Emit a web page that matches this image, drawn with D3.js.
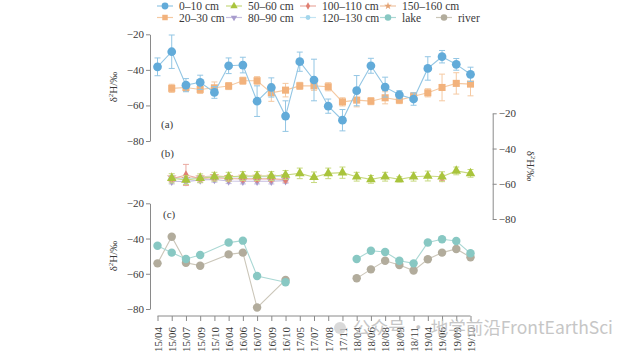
<!DOCTYPE html>
<html><head><meta charset="utf-8">
<script src="https://cdn.jsdelivr.net/npm/d3@7"></script>
<style>body{margin:0;background:#fff}svg{display:block}</style>
</head><body><svg id="c" width="639" height="355"></svg>
<script>
const categories = ["15/04","15/06","15/07","15/09","15/10","16/04","16/06","16/07","16/09","16/10","17/05","17/07","17/08","17/11","18/04","18/06","18/08","18/09","18/11","19/04","19/06","19/09","19/10"];
const yTicks = [-20,-40,-60,-80];
// panel (a)
const d0_10  = [-38.3,-29.8,-48.6,-47,-52.7,-37.7,-37.3,-57.6,-49.9,-66,-35.4,-45.7,-60.4,-68.3,-51.7,-37.7,-49.7,-54,-56.4,-39.2,-32.6,-36.9,-42.5];
const e0_10  = [5,9.4,3.7,4,3.3,4.4,4.4,8.6,5.4,8.6,5.4,11.7,4,6,8.5,4.2,5.6,2.3,3.5,6.6,3.5,3.3,4];
const d20_30 = [null,-50.4,-49.9,-51,-50.1,-49.1,-46.1,-46.1,-52.9,-51.4,-49,-49,-49.5,-58,-57,-57.6,-55.7,-57,-54.8,-52.9,-49.9,-47.6,-48];
const e20_30 = [null,2.3,2.3,2.3,3.3,2,2,2.3,4.8,3.8,2,2.5,2.3,2.3,3.8,2,3.4,2,2,2.3,7.5,6,6.6];
// panel (b)
const d50_60 = [null,-56.9,-57.9,-56.9,-56,-56,-55.6,-55.6,-55.6,-55,-54.1,-56.3,-54.1,-53.7,-56,-57.5,-56,-57.5,-56,-55.6,-56,-52.7,-54.1];
const e50_60 = [null,2.6,2.5,2.5,2.5,2.5,2.5,2.5,2.5,2.5,3,3,3,3.2,2.5,2.2,2.5,1.5,2.5,2.8,2.8,2.2,2.2];
const d80_90 = [null,-58.6,-58.8,-57.8,-57.6,-58.4,-58.6,-58.6,-58.6,-58.2,null,null,null,null,null,null,null,null,null,null,null,null,null];
const e80_90 = [null,1.5,1.5,1.5,1.5,1.5,1.5,1.5,1.5,1.5,null,null,null,null,null,null,null,null,null,null,null,null,null];
const d100_110 = [null,-57.2,-55,-57,-56.5,-57,-57.2,-57.2,-57.2,-57.6,null,null,null,null,null,null,null,null,null,null,-56.6,null,null];
const e100_110 = [null,1.5,6,1.5,1.5,1.5,1.5,1.5,1.5,1.5,null,null,null,null,null,null,null,null,null,null,1.5,null,null];
const d120_130 = [null,-56.5,-57.5,-56.5,-56,-56.2,-56,-56,-56,-55.5,null,null,null,null,null,null,null,null,null,null,null,null,null];
const d150_160 = [null,-56.2,-57,-56.2,-55.5,-56,-55.8,-55.8,-55.8,-55.5,null,null,null,null,null,null,null,null,null,null,null,null,null];
// panel (c)
const lake  = [-44.1,-48,-51.6,-49.3,null,-42.3,-41.2,-61.3,null,-64.8,null,null,null,null,-51.6,-46.9,-47.6,-52.6,-54.1,-42.3,-40.4,-41.4,-48.4];
const river = [-54.1,-39,-53.7,-55.4,null,-49,-48,-79.2,null,-63.5,null,null,null,null,-62.6,-57.5,-52.6,-55,-58.2,-51.8,-48,-45.9,-50.6];

const legendNames = ["0–10 cm","50–60 cm","100–110 cm","150–160 cm","20–30 cm","80–90 cm","120–130 cm","lake","river"];

const svg = d3.select("#c");
const serif = "'Liberation Serif','Times New Roman',serif";
const axisCol = "#8a8a8a", txtCol = "#3a3a3a";

const x = d3.scalePoint().domain(categories).range([157.5, 470.5]);
const yA = d3.scaleLinear().domain([-80,-20]).range([141,34.3]);
const yB = d3.scaleLinear().domain([-80,-20]).range([219,113.3]);
const yC = d3.scaleLinear().domain([-80,-20]).range([309,203.3]);

const style = {
  "0–10 cm":   {c:"#62abd9", l:"#93c6e4", s:d3.symbolCircle, sz:60},
  "20–30 cm":  {c:"#f2b27c", l:"#f5c9a2", s:d3.symbolSquare, sz:50},
  "50–60 cm":  {c:"#a9c43c", l:"#c7d97f", s:d3.symbolTriangle, sz:40},
  "80–90 cm":  {c:"#a89ccd", l:"#c5bde0", s:d3.symbolTriangle, sz:30, rot:180},
  "100–110 cm":{c:"#e07f72", l:"#eaa9a0", s:d3.symbolDiamond, sz:26},
  "120–130 cm":{c:"#a3d6ec", l:"#c3e4f3", s:d3.symbolCircle, sz:30},
  "150–160 cm":{c:"#e4a272", l:"#efc3a2", s:d3.symbolStar, sz:30},
  "lake":      {c:"#88c8c3", l:"#aad8d4", s:d3.symbolCircle, sz:56},
  "river":     {c:"#b2ac9c", l:"#cbc6b9", s:d3.symbolCircle, sz:56}
};

function yAxis(scale, side, xpos){
  const ax = side==="left" ? d3.axisLeft(scale) : d3.axisRight(scale);
  ax.tickValues(yTicks).tickSize(4).tickPadding(2).tickFormat(d=>"−"+Math.abs(d)).tickSizeOuter(0);
  const g = svg.append("g").attr("transform",`translate(${xpos},0)`).call(ax);
  g.select(".domain").attr("stroke",axisCol);
  g.selectAll(".tick line").attr("stroke",axisCol);
  g.selectAll("text").attr("font-family",serif).attr("font-size",11).attr("fill",txtCol);
}
yAxis(yA,"left",150);
yAxis(yC,"left",150);
yAxis(yB,"right",492.7);

// x axis
const gx = svg.append("g").attr("transform","translate(0,316)").call(d3.axisBottom(x).tickSize(5).tickSizeOuter(0));
gx.select(".domain").attr("stroke",axisCol).attr("d",`M${x.range()[0]},0H${x.range()[1]}`);
gx.selectAll(".tick line").attr("stroke",axisCol);
gx.selectAll("text").attr("font-family",serif).attr("font-size",11).attr("fill",txtCol)
  .attr("transform","rotate(-90)").attr("text-anchor","end").attr("x",-11).attr("y",0).attr("dy","0.35em");

// y labels
function ylab(tx,ty,rot){
  const t = svg.append("text").attr("transform",`translate(${tx},${ty}) rotate(${rot})`)
    .attr("text-anchor","middle").attr("font-family",serif).attr("font-size",11).attr("fill",txtCol);
  t.append("tspan").text("δ");
  t.append("tspan").text("2").attr("font-size",7).attr("dy",-4);
  t.append("tspan").text("H/‰").attr("dy",4);
}
ylab(117,87,-90); ylab(117,256,-90); ylab(527,166,90);

svg.append("text").attr("x",161).attr("y",128).text("(a)").attr("font-family",serif).attr("font-size",11).attr("fill",txtCol);
svg.append("text").attr("x",161).attr("y",157).text("(b)").attr("font-family",serif).attr("font-size",11).attr("fill",txtCol);
svg.append("text").attr("x",163).attr("y",218).text("(c)").attr("font-family",serif).attr("font-size",11).attr("fill",txtCol);

function series(name, vals, errs, y){
  const st = style[name];
  const pts = vals.map((v,i)=>({i,v,e:errs?errs[i]:null,cat:categories[i]})).filter(d=>d.v!=null);
  const segs=[]; let cur=[];
  pts.forEach((p,k)=>{ if(k>0 && p.i-pts[k-1].i>2){segs.push(cur);cur=[];} cur.push(p); });
  if(cur.length) segs.push(cur);
  const line = d3.line().x(d=>x(d.cat)).y(d=>y(d.v));
  const g = svg.append("g");
  segs.forEach(s=> g.append("path").attr("d",line(s)).attr("fill","none").attr("stroke",st.l).attr("stroke-width",1.1));
  pts.filter(d=>d.e).forEach(d=>{
    const cx=x(d.cat), y1=y(d.v+d.e), y2=y(d.v-d.e);
    g.append("path").attr("d",`M${cx},${y1}V${y2}M${cx-3},${y1}H${cx+3}M${cx-3},${y2}H${cx+3}`)
      .attr("stroke",st.l).attr("stroke-width",1).attr("fill","none");
  });
  g.selectAll(".m").data(pts).enter().append("path")
    .attr("d",d3.symbol().type(st.s).size(st.sz))
    .attr("transform",d=>`translate(${x(d.cat)},${y(d.v)}) rotate(${st.rot||0})`)
    .attr("fill",st.c);
}
series("20–30 cm", d20_30, e20_30, yA);
series("0–10 cm", d0_10, e0_10, yA);
series("150–160 cm", d150_160, null, yB);
series("120–130 cm", d120_130, null, yB);
series("80–90 cm", d80_90, e80_90, yB);
series("100–110 cm", d100_110, e100_110, yB);
series("50–60 cm", d50_60, e50_60, yB);
series("river", river, null, yC);
series("lake", lake, null, yC);

// legend
const legX = [[179,248,322,402],[179,248,322,402,458]];
const legY = [6,17.5];
let k=0;
legX.forEach((row,r)=>row.forEach(tx=>{
  const name = legendNames[k++]; const st = style[name];
  const g = svg.append("g");
  g.append("line").attr("x1",tx-22).attr("x2",tx-6).attr("y1",legY[r]).attr("y2",legY[r]).attr("stroke",st.l).attr("stroke-width",1.2);
  g.append("path").attr("d",d3.symbol().type(st.s).size(st.sz*0.6)).attr("transform",`translate(${tx-14},${legY[r]}) rotate(${st.rot||0})`).attr("fill",st.c);
  g.append("text").attr("x",tx).attr("y",legY[r]).attr("dy","0.35em").text(name)
    .attr("font-family",serif).attr("font-size",11.5).attr("fill",txtCol);
}));

// watermark
svg.append("circle").attr("cx",340).attr("cy",328).attr("r",6).attr("fill","#cfcfcf").attr("opacity",0.8);
svg.append("text").attr("x",353).attr("y",334).text("公众号 · 地学前沿FrontEarthSci")
  .attr("font-family","'Noto Sans CJK SC','Noto Sans',sans-serif").attr("font-size",17.5).attr("fill","#bdbdbd").attr("opacity",0.85);
</script></body></html>
